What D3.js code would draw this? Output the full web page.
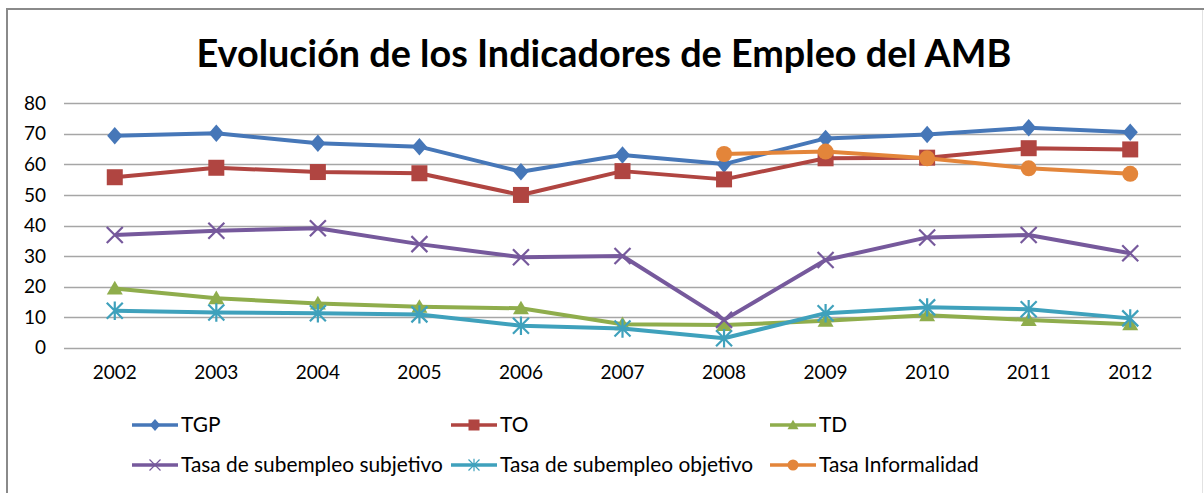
<!DOCTYPE html>
<html>
<head>
<meta charset="utf-8">
<script src="https://cdn.jsdelivr.net/npm/d3@7"></script>
<style>
  body { margin: 0; background: #fff; }
  svg { display: block; font-family: Lato, "Noto Sans", sans-serif; }
</style>
</head>
<body>
<svg id="chart"></svg>
<script>
var width = 1204, height = 493;

// data
let years = ["2002","2003","2004","2005","2006","2007","2008","2009","2010","2011","2012"];
let tgp  = [69.4, 70.2, 66.9, 65.8, 57.6, 63.1, 60.1, 68.5, 69.8, 72.0, 70.5];
let to   = [55.8, 58.9, 57.5, 57.1, 50.0, 57.8, 55.1, 62.0, 62.2, 65.3, 64.9];
let td   = [19.4, 16.2, 14.5, 13.4, 12.9, 7.7, 7.4, 8.8, 10.6, 9.1, 7.7];
let subj = [36.9, 38.3, 39.1, 33.9, 29.6, 30.0, 9.1, 28.7, 36.1, 36.9, 30.9];
let obj  = [12.1, 11.5, 11.3, 10.9, 7.2, 6.3, 3.1, 11.3, 13.2, 12.6, 9.6];
let informal = [null, null, null, null, null, null, 63.4, 64.2, 62.0, 58.7, 56.9];
let yTicks = [0, 10, 20, 30, 40, 50, 60, 70, 80];

let series = [
  {name: "TGP", values: tgp, color: "#4677b8", marker: "diamond"},
  {name: "TO", values: to, color: "#b04541", marker: "square"},
  {name: "TD", values: td, color: "#8fad4c", marker: "triangle"},
  {name: "Tasa de subempleo subjetivo", values: subj, color: "#76599c", marker: "x"},
  {name: "Tasa de subempleo objetivo", values: obj, color: "#3fa1bc", marker: "star"},
  {name: "Tasa Informalidad", values: informal, color: "#e3853a", marker: "circle"}
];

let svg = d3.select('#chart').attr('width', width).attr('height', height);

// frame
svg.append('rect').attr('x', 0).attr('y', 0).attr('width', width).attr('height', height).attr('fill', '#fff');
svg.append('line').attr('x1', 6).attr('x2', width).attr('y1', 9).attr('y2', 9)
  .attr('stroke', '#8a8a8a').attr('stroke-width', 2);
svg.append('line').attr('x1', 7).attr('x2', 7).attr('y1', 8).attr('y2', height)
  .attr('stroke', '#8a8a8a').attr('stroke-width', 2);
svg.append('line').attr('x1', 1202.5).attr('x2', 1202.5).attr('y1', 10).attr('y2', height)
  .attr('stroke', '#e2e2e2').attr('stroke-width', 1);

// title, fitted to the reference width
let title = svg.append('text').attr('x', 604).attr('y', 67)
  .attr('text-anchor', 'middle').attr('font-weight', 'bold')
  .attr('font-size', 40).attr('fill', '#000')
  .text("Evolución de los Indicadores de Empleo del AMB");
let tw = title.node().getComputedTextLength();
title.attr('font-size', 40 * 815 / tw);

var x = d3.scaleBand().domain(years).range([64, 1181]);
var y = d3.scaleLinear().domain([0, 80]).range([347.7, 103.3]);
var cx = function(i) { return x(years[i]) + x.bandwidth() / 2; };

// gridlines
svg.append('g').selectAll('line').data(yTicks).enter().append('line')
  .attr('x1', 64).attr('x2', 1181)
  .attr('y1', d => Math.round(y(d)) + 0.5).attr('y2', d => Math.round(y(d)) + 0.5)
  .attr('stroke', '#a6a6a6').attr('stroke-width', 1.3);

// y axis labels
let yAxis = d3.axisLeft(y).tickValues(yTicks).tickSize(0).tickPadding(0);
let gy = svg.append('g').attr('transform', 'translate(46,0)').call(yAxis);
gy.select('.domain').remove();
gy.selectAll('text').attr('font-size', 19).attr('fill', '#000')
  .attr('font-family', 'Lato, "Noto Sans", sans-serif');

// x axis labels
let xAxis = d3.axisBottom(x).tickSize(0).tickPadding(0);
let gx = svg.append('g').attr('transform', 'translate(0,365)').call(xAxis);
gx.select('.domain').remove();
gx.selectAll('text').attr('font-size', 19).attr('fill', '#000')
  .attr('font-family', 'Lato, "Noto Sans", sans-serif');

function drawMarker(g, type, px, py, color, s, sw) {
  let h = s / 2;
  if (type === "diamond") {
    g.append('path')
      .attr('d', 'M' + px + ',' + (py - h * 1.1) + 'L' + (px + h * 0.95) + ',' + py +
                 'L' + px + ',' + (py + h * 1.1) + 'L' + (px - h * 0.95) + ',' + py + 'Z')
      .attr('fill', color);
  } else if (type === "square") {
    g.append('rect').attr('x', px - h).attr('y', py - h).attr('width', s).attr('height', s)
      .attr('fill', color);
  } else if (type === "triangle") {
    g.append('path')
      .attr('d', 'M' + px + ',' + (py - h * 0.95) + 'L' + (px + h) + ',' + (py + h * 0.75) +
                 'L' + (px - h) + ',' + (py + h * 0.75) + 'Z')
      .attr('fill', color);
  } else if (type === "circle") {
    g.append('circle').attr('cx', px).attr('cy', py).attr('r', h).attr('fill', color);
  } else if (type === "x" || type === "star") {
    g.append('path')
      .attr('d', 'M' + (px - h) + ',' + (py - h) + 'L' + (px + h) + ',' + (py + h) +
                 'M' + (px - h) + ',' + (py + h) + 'L' + (px + h) + ',' + (py - h) +
                 (type === "star" ? 'M' + px + ',' + (py - h * 1.15) + 'L' + px + ',' + (py + h * 1.15) : ''))
      .attr('stroke', color).attr('stroke-width', sw || 2.2).attr('fill', 'none');
  }
}

var line = d3.line()
  .defined(d => d != null)
  .x((d, i) => cx(i))
  .y(d => y(d));

series.forEach(function(s) {
  let g = svg.append('g').attr('class', 'series');
  g.append('path').datum(s.values).attr('d', line)
    .attr('fill', 'none').attr('stroke', s.color).attr('stroke-width', 4)
    .attr('stroke-linejoin', 'round');
  s.values.forEach(function(v, i) {
    if (v == null) return;
    drawMarker(g, s.marker, cx(i), y(v), s.color, 16);
  });
});

// legend
let legendPos = [[132, 425], [451, 425], [770, 425], [132, 465], [451, 465], [770, 465]];
let legend = svg.append('g').attr('class', 'legend');
let probe = legend.append('text').attr('font-size', 19).text("Tasa de subempleo subjetivo");
let legendFont = 19 * 262 / probe.node().getComputedTextLength();
probe.remove();
series.forEach(function(s, i) {
  let lx = legendPos[i][0], ly = legendPos[i][1];
  let g = legend.append('g');
  g.append('line').attr('x1', lx).attr('x2', lx + 46).attr('y1', ly).attr('y2', ly)
    .attr('stroke', s.color).attr('stroke-width', 3.5);
  drawMarker(g, s.marker, lx + 23, ly, s.color, 11, 1.2);
  g.append('text').attr('x', lx + 49).attr('y', ly + 7)
    .attr('font-size', legendFont).attr('fill', '#000').text(s.name);
});
</script>
</body>
</html>
